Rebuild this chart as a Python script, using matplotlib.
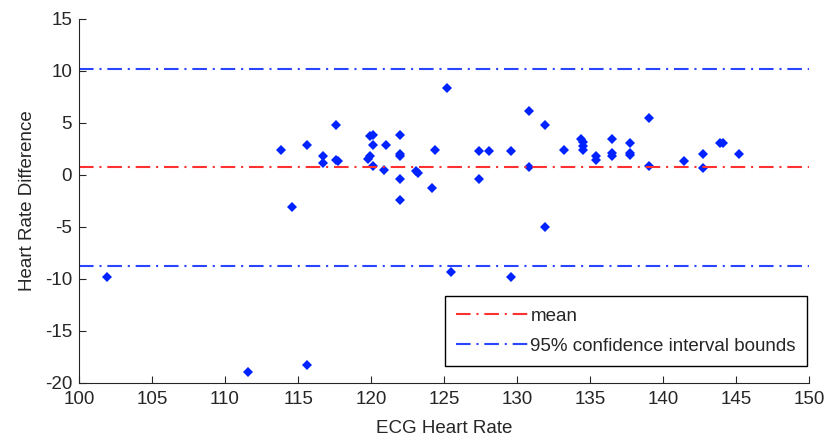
import matplotlib
matplotlib.use("Agg")
import matplotlib.pyplot as plt

# Bland-Altman style data
ecg_rate = [113.8, 114.6, 115.6, 116.7, 116.7, 117.6, 117.6, 117.7,
            119.9, 120.1, 120.1, 119.9, 119.8, 120.1, 120.9, 121.0,
            122.0, 122.0, 122.0, 122.0, 122.0, 123.1, 123.2, 124.2,
            124.4, 125.2, 127.4, 127.4, 128.1, 129.6, 130.8, 130.8,
            131.9, 131.9, 133.2, 134.4, 134.5, 134.5, 134.5, 135.4,
            135.4, 136.5, 136.5, 136.5, 137.7, 137.7, 137.7, 139.0,
            139.0, 141.4, 142.7, 142.7, 143.9, 144.1, 145.2,
            101.9, 111.6, 115.6, 125.5, 129.6]
rate_diff = [2.4, -3.15, 2.9, 1.8, 1.1, 4.8, 1.45, 1.35,
             3.7, 3.8, 2.9, 1.8, 1.5, 0.85, 0.5, 2.9,
             3.85, 1.95, 1.8, -0.45, -2.4, 0.4, 0.2, -1.25,
             2.4, 8.3, 2.25, -0.45, 2.25, 2.25, 6.1, 0.7,
             4.8, -5.05, 2.4, 3.45, 3.1, 2.75, 2.4, 1.8,
             1.4, 3.4, 2.05, 1.8, 3.05, 2.05, 1.9, 5.45,
             0.85, 1.3, 1.95, 0.65, 3.05, 3.05, 1.95,
             -9.8, -19.0, -18.35, -9.4, -9.8]
mean_diff = 0.7
ci_upper = 10.18
ci_lower = -8.77

plt.rcParams['font.family'] = ['Liberation Sans', 'DejaVu Sans']
plt.rcParams['font.size'] = 13.5
plt.rcParams['axes.unicode_minus'] = False

fig = plt.figure(figsize=(8.31, 4.47), dpi=100)
ax = fig.add_axes([0.095, 0.144, 0.879, 0.814])

ax.plot(ecg_rate, rate_diff, 'D', color='#0022ff', markersize=4.6, markeredgewidth=0)

dash = (7.0, 2.8, 1.0, 2.8)
ln_mean, = ax.plot([100, 150], [mean_diff, mean_diff], color='#ff3030', lw=1.5,
                   label='mean')
ln_mean.set_dashes(dash)
ln_up, = ax.plot([100, 150], [ci_upper, ci_upper], color='#2a45ff', lw=1.5,
                 label='95% confidence interval bounds')
ln_up.set_dashes(dash)
ln_lo, = ax.plot([100, 150], [ci_lower, ci_lower], color='#2a45ff', lw=1.5)
ln_lo.set_dashes(dash)

ax.set_xlim(100, 150)
ax.set_ylim(-20, 15)
ax.set_xticks(range(100, 151, 5))
ax.set_yticks(range(-20, 16, 5))

for s in ['top', 'right']:
    ax.spines[s].set_visible(False)
for s in ['left', 'bottom']:
    ax.spines[s].set_color('#262626')
ax.tick_params(direction='in', length=5, color='#262626', labelcolor='#262626')
ax.tick_params(axis='x', pad=6)
ax.tick_params(axis='y', pad=5)

ax.set_xlabel('ECG Heart Rate', color='#262626', labelpad=9)
ax.set_ylabel('Heart Rate Difference', color='#262626', labelpad=6)

leg = ax.legend(handles=[ln_mean, ln_up], loc='lower right',
                bbox_to_anchor=(0.997, 0.045), fancybox=False, framealpha=1,
                edgecolor='black', handlelength=3.8, handletextpad=0.15,
                borderpad=0.6, labelspacing=0.7, borderaxespad=0)
leg.get_frame().set_linewidth(1.0)
for t in leg.get_texts():
    t.set_color('#262626')

fig.savefig('out.png', dpi=100)
